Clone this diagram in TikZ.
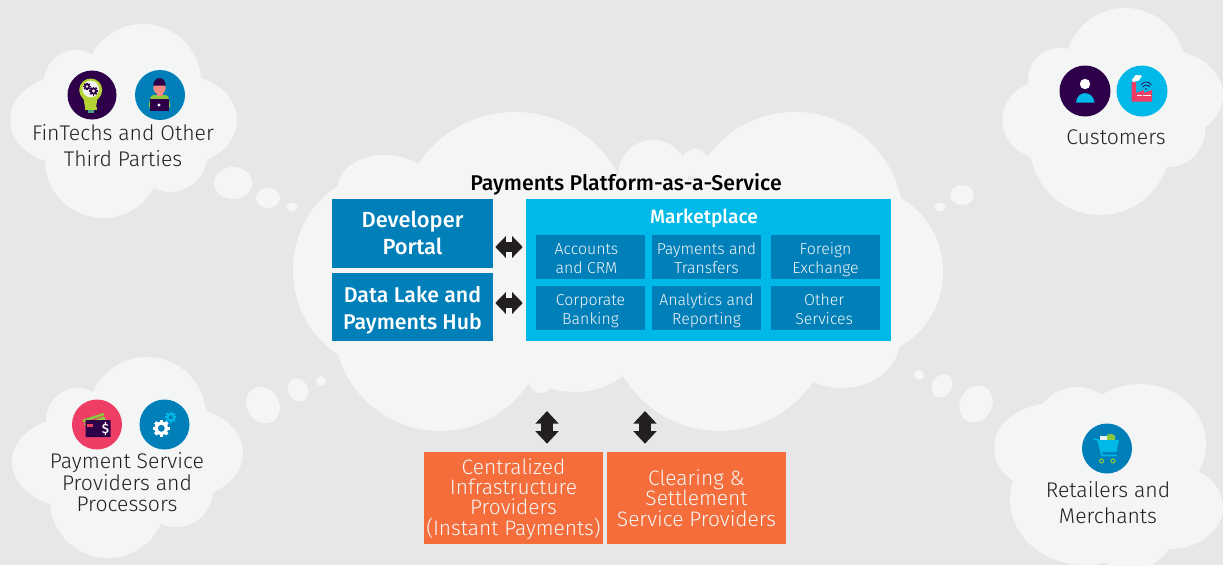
\documentclass[tikz,border=0pt]{standalone}
\usepackage{fontspec}
\usetikzlibrary{arrows.meta}
\newfontfamily\lightf{Fira Sans Light}
\newfontfamily\medf{Fira Sans Medium}
\setmainfont{Fira Sans Light}
\definecolor{bgc}{HTML}{E6E7E9}
\definecolor{cloudc}{HTML}{F4F6F6}
\definecolor{bluec}{HTML}{007FB9}
\definecolor{cyanc}{HTML}{00B9E8}
\definecolor{orangec}{HTML}{F46D3B}
\definecolor{inkc}{HTML}{231F20}
\definecolor{purplec}{HTML}{2D0049}
\definecolor{pinkc}{HTML}{EE3E66}
\definecolor{limec}{HTML}{B5D334}
\definecolor{greenc}{HTML}{8DC63F}
\definecolor{skinc}{HTML}{F58A83}
\newcommand{\puff}[4]{\fill[cloudc] (#1,#2) ellipse [x radius=#3,y radius=#4];}
\newcommand{\gearshape}[4]{%
  \begin{scope}[shift={(#1,#2)}]
    \fill[#4,even odd rule] (0,0) circle [radius=#3*0.8] (0,0) circle [radius=#3*0.42];
    \foreach \a in {0,45,...,315}{\fill[#4,rotate=\a] (-#3*0.2,#3*0.7) rectangle (#3*0.2,#3);}
  \end{scope}}
\newcommand{\svc}[2]{\rule{0pt}{12.75pt}#1\\#2\rule[-3pt]{0pt}{3pt}}
\tikzset{
  iconbg/.style={circle,inner sep=0pt,minimum size=#1*0.75pt},
  cloudtext/.style={text=inkc,align=center,inner sep=0pt,font=\lightf},
  portalbox/.style={fill=bluec,draw=none,inner sep=0pt,text=white,align=center,minimum width=120.75pt},
  marketbox/.style={fill=cyanc,draw=none,inner sep=0pt},
  servicebox/.style={fill=bluec,draw=none,inner sep=0pt,text=cloudc,align=center,minimum width=81.75pt,minimum height=33pt,font=\lightf\fontsize{11.9}{14.25}\selectfont},
  providerbox/.style={fill=orangec,draw=none,inner sep=0pt,text=cloudc,align=center,minimum width=134.25pt,minimum height=69pt,font=\lightf\fontsize{15.7}{15.25}\selectfont},
  blockarrow/.style={draw=inkc,line width=7.5pt,{Triangle[width=16pt,length=8pt]}-{Triangle[width=16pt,length=8pt]}},
  blockarrowv/.style={draw=inkc,line width=8.5pt,{Triangle[width=17pt,length=9.5pt]}-{Triangle[width=17pt,length=9.5pt]}},
}
\begin{document}
\begin{tikzpicture}[x=0.75pt,y=-0.75pt]
\useasboundingbox (0,0) rectangle (1223,565);
\clip (0,0) rectangle (1223,565);
\fill[bgc] (0,0) rectangle (1223,565);
% central cloud
\puff{385}{270}{92}{98}
\puff{385}{187}{47}{32}
\puff{515}{228}{116}{116}
\puff{653}{175}{35}{35}
\puff{695}{163}{14}{14}
\puff{795}{220}{108}{108}
\puff{860}{272}{83}{85}
\puff{842}{340}{58}{48}
\puff{720}{318}{113}{113}
\puff{440}{325}{106}{106}
\puff{541}{381}{12}{12}
\puff{575}{350}{60}{42}
\fill[cloudc] (350,180) rectangle (880,350);
% top-left cloud
\puff{143}{82}{58}{58}
\puff{76}{82}{32}{32}
\puff{70}{120}{60}{45}
\puff{180}{120}{57}{45}
\puff{103}{160}{58}{58}
\puff{170}{155}{37}{37}
\puff{233}{183}{19}{16}
\puff{268}{198}{12}{10}
\puff{292}{207}{5.5}{4.5}
% top-right cloud
\puff{1125}{68}{60}{60}
\puff{1060}{80}{32}{32}
\puff{1065}{120}{63}{45}
\puff{1165}{95}{58}{45}
\puff{1100}{145}{70}{70}
\puff{1168}{130}{37}{37}
\puff{962}{195}{12}{10}
\puff{940}{207}{5.5}{4.5}
% bottom-left cloud
\puff{147}{416}{59}{59}
\puff{78}{420}{32}{32}
\puff{72}{462}{60}{45}
\puff{185}{453}{58}{45}
\puff{108}{500}{58}{58}
\puff{176}{490}{37}{37}
\fill[cloudc,rotate around={30:(263,405)}] (263,405) ellipse [x radius=16,y radius=19];
\fill[cloudc,rotate around={30:(298,390)}] (298,390) ellipse [x radius=10,y radius=12];
\puff{321}{381}{5}{5}
% bottom-right cloud
\puff{1140}{444}{66}{60}
\puff{1077}{430}{43}{43}
\puff{1055}{448}{61}{45}
\puff{1085}{500}{75}{65}
\puff{1170}{507}{53}{42}
\puff{1130}{515}{50}{55}
\fill[cloudc,rotate around={-30:(976,404)}] (976,404) ellipse [x radius=16,y radius=19];
\fill[cloudc,rotate around={-30:(942,386)}] (942,386) ellipse [x radius=10,y radius=12];
\puff{919}{375}{5}{5}
% title
\node[text=black,inner sep=0pt,font=\medf\fontsize{16}{18}\selectfont] (title) at (626,184.5) {Payments Platform-as-a-Service};
% boxes
\node[portalbox,minimum height=51.75pt,font=\medf\fontsize{16.4}{20.25}\selectfont] (dev) at (412.5,233.5) {Developer\\Portal\rule[-1.5pt]{0pt}{1.5pt}};
\node[portalbox,minimum height=51pt,font=\medf\fontsize{16}{20.25}\selectfont] (hub) at (412.5,307) {\rule{0pt}{17.5pt}Data Lake and\\Payments Hub};
\node[marketbox,minimum width=273.75pt,minimum height=106.5pt] (market) at (708.5,270) {};
\node[text=white,inner sep=0pt,font=\medf\fontsize{14.4}{16}\selectfont] (markettitle) at (704,218.5) {Marketplace};
\node[servicebox] (s1) at (590.5,257) {\svc{Accounts\rule{6pt}{0pt}}{and CRM\rule{6pt}{0pt}}};
\node[servicebox] (s2) at (706.5,257) {\svc{Payments and}{Transfers}};
\node[servicebox] (s3) at (825.5,257) {\svc{Foreign}{Exchange}};
\node[servicebox] (s4) at (590.5,308) {\svc{Corporate}{Banking}};
\node[servicebox] (s5) at (706.5,308) {\svc{Analytics and}{Reporting}};
\node[servicebox] (s6) at (825.5,308) {\svc{Other\rule{2pt}{0pt}}{Services\rule{2pt}{0pt}}};
\node[providerbox] (cip) at (513.5,498) {\rule{0pt}{13pt}Centralized\\Infrastructure\\Providers\\(Instant Payments)};
\node[providerbox] (csp) at (696.5,498) {Clearing \&\\Settlement\\Service Providers};
% connectors
\path (dev.east) ++(2,13.5) coordinate (devr);
\path (market.west) ++(-3,-23) coordinate (markl1);
\path (hub.east) ++(2,-4) coordinate (hubr);
\path (market.west) ++(-3,33) coordinate (markl2);
\draw[blockarrow] (devr) -- (markl1);
\draw[blockarrow] (hubr) -- (markl2);
\coordinate (cloudb1) at (547,411);
\coordinate (cloudb2) at (645,411);
\path (cip.north) ++(33.5,-8) coordinate (cipt);
\path (csp.north) ++(-51.5,-8) coordinate (cspt);
\draw[blockarrowv] (cloudb1) -- (cipt);
\draw[blockarrowv] (cloudb2) -- (cspt);
% cloud labels
\node[cloudtext,font=\lightf\fontsize{15.9}{19.5}\selectfont] (fin) at (123,146) {FinTechs and Other\\Third Parties};
\node[cloudtext,font=\lightf\fontsize{15.9}{19.5}\selectfont] (cust) at (1116,137) {Customers};
\node[cloudtext,font=\lightf\fontsize{15.9}{16.1}\selectfont] (psp) at (127,482.5) {Payment Service\\Providers and\\Processors};
\node[cloudtext,font=\lightf\fontsize{15.9}{19.5}\selectfont] (ret) at (1108,503) {Retailers and\\Merchants};
% icons
\node[iconbg=49,fill=purplec] (i1) at (92,95) {};
\fill[limec] (90.7,90) circle [radius=11.5];
\fill[limec] (83,96) -- (98,96) -- (96,107) -- (85,107) -- cycle;
\fill[cloudc] (90.7,89) circle [radius=8.3];
\fill[limec] (85,107) rectangle (97,110);
\fill[bluec!60!limec] (87.5,110) rectangle (94,112.5);
\gearshape{87}{86.5}{3.8}{purplec}
\gearshape{93.5}{91}{4.5}{purplec}
\node[iconbg=50,fill=bluec] (i2) at (160,95) {};
\fill[greenc,rounded corners=2pt] (148,108) -- (151,95) -- (168,95) -- (171,108) -- cycle;
\fill[skinc] (159.5,88) circle [radius=6.2];
\fill[skinc] (156.5,90) rectangle (162.5,96);
\fill[purplec] (153.3,85.5) arc [start angle=180,end angle=360,x radius=6.2,y radius=7.5] -- cycle;
\fill[purplec] (150,99) rectangle (169,111);
\fill[white] (159,105) circle [radius=1.6];
\node[iconbg=51,fill=purplec] (i3) at (1085,91) {};
\fill[white] (1085,84) circle [radius=5.2];
\fill[cyanc] (1076,102.5) .. controls (1077,90) and (1093,90) .. (1094.5,102.5) -- cycle;
\node[iconbg=51,fill=cyanc] (i4) at (1142,91) {};
\fill[pinkc] (1131.5,101.5) -- (1131.5,82) -- (1136,82) -- (1136,93) -- (1144,90) -- (1144,93) -- (1152,90) -- (1152,101.5) -- cycle;
\fill[white] (1136.5,94.5) rectangle (1141.5,96.2);
\fill[white] (1142.5,94.5) rectangle (1151,96.2);
\fill[white] (1137,78) circle [radius=3.2];
\fill[white] (1134,80) circle [radius=2];
\fill[white] (1140,76.5) circle [radius=1.8];
\draw[purplec,line width=.5pt] (1141,85) arc [start angle=-150,end angle=-30,radius=6];
\draw[purplec,line width=.5pt] (1142.7,87) arc [start angle=-150,end angle=-30,radius=4];
\fill[purplec] (1146,89) circle [radius=.9];
\node[iconbg=50,fill=pinkc] (i5) at (97,424.5) {};
\draw[greenc,line width=2pt] (83,421) -- (104,414);
\fill[greenc] (84,424) -- (104,416.5) -- (106,420) -- (86,426) -- cycle;
\fill[purplec,rounded corners=.5pt] (85.5,420) rectangle (110.5,437);
\fill[pinkc] (87,423.5) rectangle (92.5,427);
\node[text=white,inner sep=0pt,font=\medf\fontsize{10}{10}\selectfont] (dollar) at (105.5,429) {\$};
\node[iconbg=50,fill=bluec] (i6) at (164.5,424.5) {};
\gearshape{161.3}{428.3}{8.5}{white}
\gearshape{170.7}{417.3}{5.5}{cyanc}
\node[iconbg=50,fill=bluec] (i7) at (1107,448.5) {};
\fill[white!90!bluec] (1100,436) rectangle (1107.5,441);
\fill[greenc] (1107,434.5) -- (1112,434) -- (1115,436) -- (1115,441) -- (1107,441) -- cycle;
\fill[cyanc] (1098,440) -- (1119,440) -- (1116.5,452) -- (1102,452) -- cycle;
\draw[cyanc,line width=1.2pt] (1094,439) -- (1098,440) -- (1102,455.5) -- (1117,455.5);
\draw[greenc,line width=.8pt] (1101.5,461) circle [radius=2];
\draw[greenc,line width=.8pt] (1113,461) circle [radius=2];
\end{tikzpicture}
\end{document}
